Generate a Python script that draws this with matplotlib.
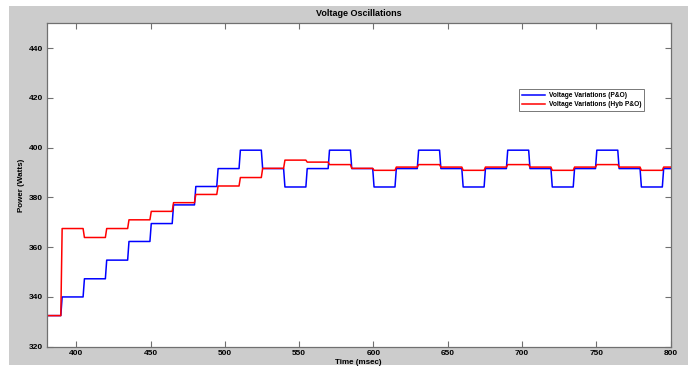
import matplotlib
matplotlib.use('Agg')
import matplotlib.pyplot as plt
from matplotlib.patches import Rectangle

# Instantes de cambio (msec) y niveles de cada tramo
t_inicio = 380
t_fin = 800
t_cambios = [389.5, 404.5, 419.5, 434.5, 449.5, 464.5, 479.5, 494.5, 509.5, 524.5,
             539.5, 554.5, 569.5, 584.5, 599.5, 614.5, 629.5, 644.5, 659.5, 674.5,
             689.5, 704.5, 719.5, 734.5, 749.5, 764.5, 779.5, 794.5]

niveles_po = [332.5, 340.0, 347.3, 354.8, 362.3, 369.5, 377.0, 384.4, 391.6, 399.0,
              391.6, 384.2, 391.6, 399.0, 391.6, 384.2, 391.6, 399.0, 391.6, 384.2,
              391.6, 399.0, 391.6, 384.2, 391.6, 399.0, 391.6, 384.2, 391.6]

niveles_hyb = [332.5, 367.5, 363.9, 367.5, 371.0, 374.4, 377.9, 381.2, 384.6, 388.0,
               391.7, 395.0, 394.2, 393.2, 391.7, 390.9, 392.2, 393.2, 392.2, 390.9,
               392.2, 393.2, 392.2, 390.9, 392.2, 393.2, 392.2, 390.9, 392.2]

etiquetas = ['Voltage Variations (P&O)', 'Voltage Variations (Hyb P&O)']
colores = ['#0000ff', '#ff0000']


def escalones(cambios, niveles, rampa=0.9):
    xs = [t_inicio]
    ys = [niveles[0]]
    for i, t in enumerate(cambios):
        xs += [t, t + rampa]
        ys += [niveles[i], niveles[i + 1]]
    xs.append(t_fin)
    ys.append(niveles[-1])
    return xs, ys


plt.rcParams['font.family'] = ['Liberation Sans', 'DejaVu Sans']
plt.rcParams['font.weight'] = 'bold'

fig = plt.figure(figsize=(6.88, 3.68), dpi=100, facecolor='white')
# panel gris tipo MATLAB
fig.patches.append(Rectangle((9 / 688, 3 / 368), 1 - 9 / 688, 1 - 9 / 368,
                             transform=fig.transFigure, facecolor='#cccccc',
                             edgecolor='none', zorder=-10))

ax = fig.add_axes([46.7 / 688, 1 - 346.7 / 368, (670.5 - 46.7) / 688, (346.7 - 23.3) / 368])
ax.set_facecolor('white')

for niveles, etiqueta, color in zip([niveles_po, niveles_hyb], etiquetas, colores):
    x, y = escalones(t_cambios, niveles)
    ax.plot(x, y, color=color, lw=1.1, label=etiqueta)

ax.set_xlim(380, 800)
ax.set_ylim(320, 450)
ax.set_xticks(range(400, 801, 50))
ax.set_yticks(range(320, 441, 20))

gris = '#707070'
for s in ax.spines.values():
    s.set_color(gris)
    s.set_linewidth(0.9)
ax.tick_params(direction='in', length=4.3, width=0.8, color=gris,
               top=True, right=True, labelsize=6, pad=2.5, labelcolor='black')
for lbl in ax.get_xticklabels() + ax.get_yticklabels():
    lbl.set_fontweight('bold')

ax.set_title('Voltage Oscillations', fontsize=6.5, fontweight='bold', pad=5)
ax.set_xlabel('Time (msec)', fontsize=5.8, fontweight='bold', labelpad=1)
ax.set_ylabel('Power (Watts)', fontsize=5.8, fontweight='bold', labelpad=3)

leg = ax.legend(loc='upper left', bbox_to_anchor=((519.3 - 46.7) / 623.8, 1 - (89.3 - 23.3) / 323.4),
                fontsize=4.8, frameon=True, fancybox=False, handlelength=3.5,
                handletextpad=0.5, borderpad=0.4, labelspacing=0.35, borderaxespad=0)
leg.get_frame().set_edgecolor('#555555')
leg.get_frame().set_linewidth(0.7)
for t in leg.get_texts():
    t.set_fontweight('bold')

fig.savefig('out.png', dpi=100, facecolor=fig.get_facecolor())
